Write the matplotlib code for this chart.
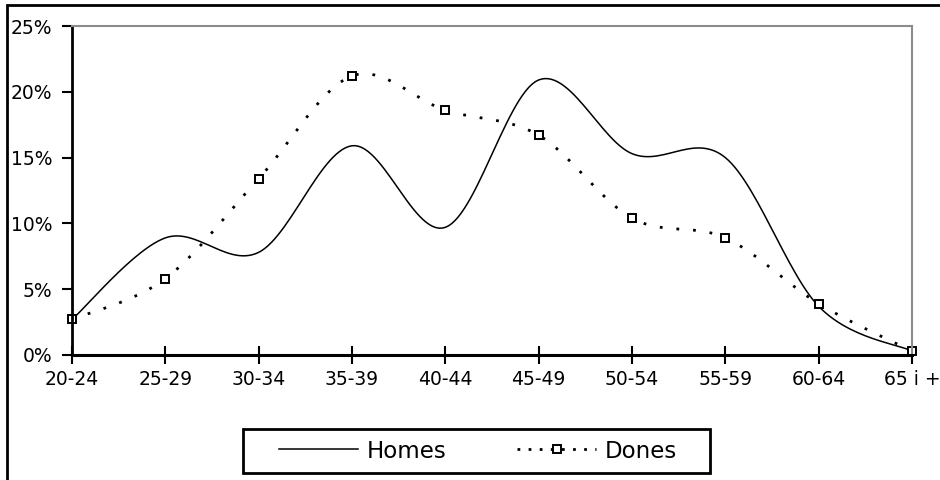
import numpy as np
import matplotlib
matplotlib.use("Agg")
import matplotlib.pyplot as plt
from matplotlib.patches import Rectangle
from matplotlib.ticker import FuncFormatter


age_groups = ["20-24", "25-29", "30-34", "35-39", "40-44",
              "45-49", "50-54", "55-59", "60-64", "65 i +"]
homes = [2.7, 8.9, 7.8, 15.9, 9.7, 20.9, 15.3, 15.0, 3.7, 0.3]
dones = [2.7, 5.8, 13.4, 21.2, 18.6, 16.7, 10.4, 8.9, 3.9, 0.3]

plt.rcParams["font.family"] = ["DejaVu Sans"]


def smooth(values, steps=30):
    # cubic bezier through the points, catmull-rom style control points
    y = np.asarray(values, dtype=float)
    x = np.arange(len(y), dtype=float)
    pts = np.column_stack([x, y])
    padded = np.vstack([pts[0], pts, pts[-1]])
    out = []
    t = np.linspace(0, 1, steps)[:, None]
    for i in range(len(pts) - 1):
        p0 = padded[i + 1]
        p3 = padded[i + 2]
        c1 = p0 + (padded[i + 2] - padded[i]) / 6
        c2 = p3 - (padded[i + 3] - padded[i + 1]) / 6
        seg = ((1 - t) ** 3 * p0 + 3 * (1 - t) ** 2 * t * c1
               + 3 * (1 - t) * t ** 2 * c2 + t ** 3 * p3)
        out.append(seg if i == 0 else seg[1:])
    out = np.vstack(out)
    return out[:, 0], out[:, 1]


fig = plt.figure(figsize=(9.4, 4.8), dpi=100)
ax = fig.add_axes([72 / 940, 125 / 480, 840 / 940, 329 / 480])

idx = np.arange(len(age_groups))

hx, hy = smooth(homes)
ax.plot(hx, hy, color="black", lw=1.1, label="Homes")

dx, dy = smooth(dones)
ax.plot(dx, dy, color="black", lw=2.0, linestyle=(0, (1, 5)),
        dash_capstyle="butt")
ax.plot(idx, dones, linestyle="none", marker="s", ms=6,
        mfc="white", mec="black", mew=1.4, clip_on=False)
# proxy for the legend entry (line with marker)
ax.plot([], [], color="black", lw=2.0, linestyle=(0, (1, 3)),
        marker="s", ms=6, mfc="white", mec="black", mew=1.4,
        markevery=[1], label="Dones")

ax.set_xlim(0, len(age_groups) - 1)
ax.set_ylim(0, 25)
ax.set_xticks(idx)
ax.set_xticklabels(age_groups)
ax.set_yticks(np.arange(0, 26, 5))
ax.yaxis.set_major_formatter(FuncFormatter(lambda v, p: f"{v:.0f}%"))

ax.tick_params(axis="x", direction="inout", length=13, width=1.5,
               labelsize=13.5, pad=4)
ax.tick_params(axis="y", direction="out", length=7, width=1.5,
               labelsize=13.5, pad=7)

ax.spines["left"].set_linewidth(2)
ax.spines["bottom"].set_linewidth(2.2)
for side in ("top", "right"):
    ax.spines[side].set_color("#8c8c8c")
    ax.spines[side].set_linewidth(1.5)
ax.set_facecolor("white")

# legend entries without frame, the box is drawn separately
leg = fig.legend(loc="center", ncol=2,
                 bbox_to_anchor=(478 / 940, 29 / 480),
                 fontsize=16.5, frameon=False,
                 handlelength=3.45, handletextpad=0.35,
                 columnspacing=3.1, borderpad=0, borderaxespad=0)
fig.patches.append(Rectangle((243 / 940, 7 / 480), 467 / 940, 44 / 480,
                             transform=fig.transFigure, fill=False,
                             edgecolor="black", lw=2))

# outer chart border
fig.patches.append(Rectangle((7 / 940, -0.1), 1.2, 1.1 - 5 / 480,
                             transform=fig.transFigure, fill=False,
                             edgecolor="black", lw=2, clip_on=False))

fig.savefig("out.png", dpi=100)
